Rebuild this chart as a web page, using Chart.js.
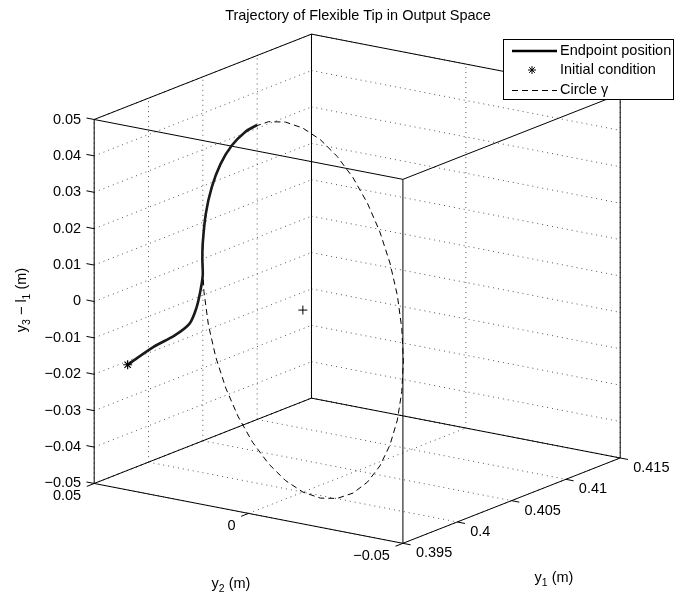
<!DOCTYPE html>
<html>
<head>
<meta charset="utf-8">
<script src="https://cdn.jsdelivr.net/npm/chart.js@4.4.1/dist/chart.umd.min.js"></script>
<style>
  html, body { margin: 0; padding: 0; background: #fff; }
</style>
</head>
<body>
<canvas id="chart" width="678" height="602"></canvas>
<script>
// axis limits and ticks (output space)
const y1Lim = [0.395, 0.415];
const y2Lim = [-0.05, 0.05];
const zLim = [-0.05, 0.05];
const y1Ticks = [0.395, 0.4, 0.405, 0.41, 0.415];
const y1Labels = ['0.395', '0.4', '0.405', '0.41', '0.415'];
const y2Ticks = [-0.05, 0, 0.05];
const y2Labels = ['\u22120.05', '0', '0.05'];
const zTicks = [-0.05, -0.04, -0.03, -0.02, -0.01, 0, 0.01, 0.02, 0.03, 0.04, 0.05];
const zLabels = ['\u22120.05', '\u22120.04', '\u22120.03', '\u22120.02', '\u22120.01', '0',
                 '0.01', '0.02', '0.03', '0.04', '0.05'];

// endpoint trajectory (y1, y2, y3 - l1)
const trajY1 = [0.39666, 0.39924, 0.40145, 0.40304, 0.40387, 0.40443, 0.40488, 0.40490,
                0.40488, 0.40473, 0.40444, 0.40401, 0.40346, 0.40281, 0.40222];
const trajY2 = [0.0450, 0.0458, 0.0466, 0.0474, 0.0481, 0.0488, 0.04961, 0.04980,
                0.04961, 0.04810, 0.04513, 0.04080, 0.03521, 0.02857, 0.02261];
const trajZ = [-0.0185, -0.0168, -0.01631, -0.01507, -0.01184, -0.00803, -0.00436, 0,
               0.00436, 0.01294, 0.02113, 0.02868, 0.03536, 0.04096, 0.04455];

// circle gamma
const circY1 = [0.40490, 0.40483, 0.40460, 0.40424, 0.40375, 0.40315, 0.40245, 0.40168, 0.40085,
                0.40000, 0.39915, 0.39832, 0.39755, 0.39685, 0.39625, 0.39576, 0.39540, 0.39517,
                0.39510, 0.39517, 0.39540, 0.39576, 0.39625, 0.39685, 0.39755, 0.39832, 0.39915,
                0.40000, 0.40085, 0.40168, 0.40245, 0.40315, 0.40375, 0.40424, 0.40460, 0.40483, 0.40490];
const circY2 = [0.04980, 0.04904, 0.04680, 0.04313, 0.03815, 0.03201, 0.02490, 0.01703, 0.00865,
                0, -0.00865, -0.01703, -0.02490, -0.03201, -0.03815, -0.04313, -0.04680, -0.04904,
                -0.04980, -0.04904, -0.04680, -0.04313, -0.03815, -0.03201, -0.02490, -0.01703, -0.00865,
                0, 0.00865, 0.01703, 0.02490, 0.03201, 0.03815, 0.04313, 0.04680, 0.04904, 0.04980];
const circZ = [0, 0.00868, 0.01710, 0.02500, 0.03214, 0.03830, 0.04330, 0.04698, 0.04924,
               0.05, 0.04924, 0.04698, 0.04330, 0.03830, 0.03214, 0.02500, 0.01710, 0.00868,
               0, -0.00868, -0.01710, -0.02500, -0.03214, -0.03830, -0.04330, -0.04698, -0.04924,
               -0.05, -0.04924, -0.04698, -0.04330, -0.03830, -0.03214, -0.02500, -0.01710, -0.00868, 0];
const circCenter = [0.4, 0, 0];

// view: where the box corner (y1 min, y2 max, z min) lands and the screen vector of each axis
const boxOrigin = [90, 487];
const edgeY1 = [221, -87];
const edgeY2 = [314, 61];
const edgeZ = [0, -371];

const FONT = '"Liberation Sans", Arial, Helvetica, sans-serif';

function span(lim) { return lim[1] - lim[0]; }

function project(y1, y2, z) {
    const u = (y1 - y1Lim[0]) / span(y1Lim);
    const v = (y2Lim[1] - y2) / span(y2Lim);
    const w = (z - zLim[0]) / span(zLim);
    return {
        x: boxOrigin[0] + u * edgeY1[0] + v * edgeY2[0] + w * edgeZ[0],
        y: boxOrigin[1] + u * edgeY1[1] + v * edgeY2[1] + w * edgeZ[1]
    };
}

function toLines(segs) {
    const out = [];
    segs.forEach(s => {
        out.push(project(...s[0]), project(...s[1]), { x: NaN, y: NaN });
    });
    return out;
}

// box edges
const boxSegs = [];
const corners = [];
y1Lim.forEach(a => y2Lim.forEach(b => zLim.forEach(c => corners.push([a, b, c]))));
for (let i = 0; i < corners.length; i++) {
    for (let j = i + 1; j < corners.length; j++) {
        let diff = 0;
        for (let k = 0; k < 3; k++) if (corners[i][k] !== corners[j][k]) diff++;
        if (diff === 1) boxSegs.push([corners[i], corners[j]]);
    }
}

// grid on the three back planes
const gridSegs = [];
zTicks.forEach(z => {
    gridSegs.push([[y1Lim[0], y2Lim[1], z], [y1Lim[1], y2Lim[1], z]]);
    gridSegs.push([[y1Lim[1], y2Lim[1], z], [y1Lim[1], y2Lim[0], z]]);
});
y1Ticks.forEach(y1 => {
    gridSegs.push([[y1, y2Lim[1], zLim[0]], [y1, y2Lim[1], zLim[1]]]);
    gridSegs.push([[y1, y2Lim[1], zLim[0]], [y1, y2Lim[0], zLim[0]]]);
});
y2Ticks.forEach(y2 => {
    gridSegs.push([[y1Lim[1], y2, zLim[0]], [y1Lim[1], y2, zLim[1]]]);
    gridSegs.push([[y1Lim[0], y2, zLim[0]], [y1Lim[1], y2, zLim[0]]]);
});

// tick marks, pointing out of the box
const tickSegs = [];
zTicks.forEach(z => tickSegs.push([[y1Lim[0], y2Lim[1], z], [y1Lim[0], y2Lim[1] + 0.025 * span(y2Lim), z]]));
y2Ticks.forEach(y2 => tickSegs.push([[y1Lim[0], y2, zLim[0]], [y1Lim[0] - 0.034 * span(y1Lim), y2, zLim[0]]]));
y1Ticks.forEach(y1 => tickSegs.push([[y1, y2Lim[0], zLim[0]], [y1, y2Lim[0] - 0.025 * span(y2Lim), zLim[0]]]));

const trajPts = trajY1.map((v, i) => project(v, trajY2[i], trajZ[i]));
const circPts = circY1.map((v, i) => project(v, circY2[i], circZ[i]));

function drawRich(ctx, parts, x, y, align, size) {
    const subSize = size * 0.72;
    let w = 0;
    parts.forEach(p => {
        ctx.font = (p.sub ? subSize : size) + 'px ' + FONT;
        p.w = ctx.measureText(p.t).width;
        w += p.w;
    });
    let cx = align === 'center' ? x - w / 2 : (align === 'right' ? x - w : x);
    ctx.textAlign = 'left';
    ctx.textBaseline = 'middle';
    parts.forEach(p => {
        ctx.font = (p.sub ? subSize : size) + 'px ' + FONT;
        ctx.fillText(p.t, cx, p.sub ? y + size * 0.32 : y);
        cx += p.w;
    });
}

function drawAsterisk(ctx, x, y, r) {
    ctx.beginPath();
    for (let a = 0; a < 4; a++) {
        const ang = a * Math.PI / 4;
        ctx.moveTo(x - r * Math.cos(ang), y - r * Math.sin(ang));
        ctx.lineTo(x + r * Math.cos(ang), y + r * Math.sin(ang));
    }
    ctx.stroke();
}

const textPlugin = {
    id: 'texts',
    afterDatasetsDraw(chart) {
        const ctx = chart.ctx;
        const sx = chart.scales.x, sy = chart.scales.y;
        const px = p => [sx.getPixelForValue(p.x), sy.getPixelForValue(p.y)];
        ctx.save();
        ctx.fillStyle = '#000';
        ctx.font = '14.5px ' + FONT;
        ctx.textBaseline = 'middle';

        // z tick labels
        ctx.textAlign = 'right';
        zTicks.forEach((z, i) => {
            const [x, y] = px(project(y1Lim[0], y2Lim[1], z));
            ctx.fillText(zLabels[i], x - 13, y);
        });
        // y2 tick labels
        y2Ticks.forEach((v, i) => {
            const [x, y] = px(project(y1Lim[0], v, zLim[0]));
            ctx.fillText(y2Labels[i], x - 13, y + 13);
        });
        // y1 tick labels
        ctx.textAlign = 'left';
        y1Ticks.forEach((v, i) => {
            const [x, y] = px(project(v, y2Lim[0], zLim[0]));
            ctx.fillText(y1Labels[i], x + 13, y + 10);
        });

        // title
        ctx.textAlign = 'center';
        ctx.fillText('Trajectory of Flexible Tip in Output Space', 358, 16);

        // axis labels
        drawRich(ctx, [{ t: 'y' }, { t: '2', sub: true }, { t: ' (m)' }], 231, 584, 'center', 14.5);
        drawRich(ctx, [{ t: 'y' }, { t: '1', sub: true }, { t: ' (m)' }], 554, 578, 'center', 14.5);
        ctx.save();
        ctx.translate(22, 300);
        ctx.rotate(-Math.PI / 2);
        drawRich(ctx, [{ t: 'y' }, { t: '3', sub: true }, { t: ' \u2212 l' }, { t: '1', sub: true }, { t: ' (m)' }],
                 0, 0, 'center', 14.5);
        ctx.restore();

        // legend
        ctx.fillStyle = '#fff';
        ctx.fillRect(503, 39, 171, 61);
        ctx.strokeStyle = '#000';
        ctx.lineWidth = 1;
        ctx.strokeRect(503.5, 39.5, 170, 60);
        ctx.beginPath();
        ctx.lineWidth = 2.6;
        ctx.moveTo(512, 51);
        ctx.lineTo(557, 51);
        ctx.stroke();
        ctx.lineWidth = 1;
        drawAsterisk(ctx, 532, 70, 4);
        ctx.setLineDash([6, 4]);
        ctx.beginPath();
        ctx.moveTo(512, 90.5);
        ctx.lineTo(557, 90.5);
        ctx.stroke();
        ctx.setLineDash([]);
        ctx.fillStyle = '#000';
        ctx.font = '14.5px ' + FONT;
        ctx.textAlign = 'left';
        ctx.fillText('Endpoint position', 560, 51);
        ctx.fillText('Initial condition', 560, 70);
        ctx.fillText('Circle \u03b3', 560, 90);
        ctx.restore();
    }
};

new Chart(document.getElementById('chart'), {
    type: 'scatter',
    data: {
        datasets: [
            {
                label: 'Initial condition',
                data: [trajPts[0]],
                pointStyle: 'star',
                pointRadius: 4.5,
                borderColor: '#000',
                backgroundColor: '#000',
                borderWidth: 1.2
            },
            {
                label: 'center',
                data: [project(...circCenter)],
                pointStyle: 'cross',
                pointRadius: 4.5,
                borderColor: '#000',
                borderWidth: 1
            },
            {
                label: 'Endpoint position',
                data: trajPts,
                showLine: true,
                borderColor: '#1a1a1a',
                borderWidth: 2.6,
                pointRadius: 0,
                tension: 0.3
            },
            {
                label: 'Circle \u03b3',
                data: circPts,
                showLine: true,
                borderColor: '#000',
                borderWidth: 1,
                borderDash: [6, 4],
                pointRadius: 0
            },
            {
                label: 'box',
                data: toLines(boxSegs.concat(tickSegs)),
                showLine: true,
                borderColor: '#000',
                borderWidth: 1,
                pointRadius: 0
            },
            {
                label: 'grid',
                data: toLines(gridSegs),
                showLine: true,
                borderColor: '#555',
                borderWidth: 1,
                borderDash: [1, 4],
                pointRadius: 0
            }
        ]
    },
    options: {
        responsive: false,
        animation: false,
        devicePixelRatio: 1,
        events: [],
        layout: { padding: 0 },
        plugins: {
            legend: { display: false },
            title: { display: false },
            tooltip: { enabled: false }
        },
        scales: {
            x: { type: 'linear', min: 0, max: 678, display: false },
            y: { type: 'linear', min: 0, max: 602, reverse: true, display: false }
        }
    },
    plugins: [textPlugin]
});
</script>
</body>
</html>
